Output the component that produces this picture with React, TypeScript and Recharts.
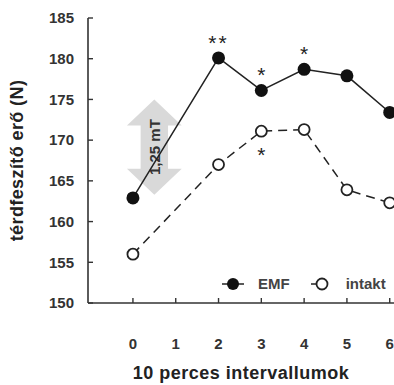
import { LineChart, Line, XAxis, YAxis, ReferenceArea, Legend, LabelList, Label } from 'recharts'

// 10 perces intervallumok (no reading at interval 1)
const intervals = [0, 2, 3, 4, 5, 6]
const emf = [162.9, 180.1, 176.1, 178.7, 177.9, 173.4]
const intakt = [156.0, 167.0, 171.1, 171.3, 163.9, 162.3]
const emfSig = ['', '**', '*', '*', '', '']
const intaktSig = ['', '', '*', '', '', '']
const xTicks = [0, 1, 2, 3, 4, 5, 6]
const yTicks = [150, 155, 160, 165, 170, 175, 180, 185]

// the grey "1,25 mT" double arrow, in data units
const fieldArrow = { x1: -0.14, x2: 1.14, y1: 163.3, y2: 175.0, text: '1,25 mT' }

const data = intervals.map((t, i) => ({
  t,
  emf: emf[i],
  intakt: intakt[i],
  emfSig: emfSig[i],
  intaktSig: intaktSig[i],
}))

const INK = '#222'
const AXIS = '#333'
const FONT = 'Liberation Sans, Arial, sans-serif'

const sigLabel = (dy: number) => (props: any) => {
  const { x, y, value } = props
  if (!value) return null
  return (
    <text x={x} y={y + dy} textAnchor="middle" fontSize={21} fill={INK}
      letterSpacing={value.length > 1 ? 2 : 0} fontFamily={FONT}>
      {value}
    </text>
  )
}

const ArrowShape = (props: any) => {
  const { x, y, width, height } = props
  const cx = x + width / 2
  const hh = 26
  const sw = width * 0.5
  const top = y
  const bot = y + height
  const pts = [
    [cx, top], [x + width, top + hh], [cx + sw / 2, top + hh], [cx + sw / 2, bot - hh],
    [x + width, bot - hh], [cx, bot], [x, bot - hh], [cx - sw / 2, bot - hh],
    [cx - sw / 2, top + hh], [x, top + hh],
  ].map(p => p.join(',')).join(' ')
  const cy = top + height / 2
  return (
    <g>
      <polygon points={pts} fill="#d9d9d9" />
      <text transform={`translate(${cx},${cy}) rotate(-90)`} textAnchor="middle" dy="0.36em"
        fontSize={15} fontWeight="bold" fill="#333" fontFamily={FONT}>
        {fieldArrow.text}
      </text>
    </g>
  )
}

const LegendContent = () => (
  <div style={{ display: 'flex', alignItems: 'center', fontFamily: FONT,
    fontWeight: 'bold', fontSize: 15, color: '#444' }}>
    <svg width={24} height={16}>
      <line x1={0} y1={8} x2={22} y2={8} stroke={INK} strokeWidth={1.5} />
      <circle cx={11} cy={8} r={6} fill="#111" />
    </svg>
    <span style={{ marginLeft: 12 }}>EMF</span>
    <svg width={24} height={16} style={{ marginLeft: 21 }}>
      <line x1={0} y1={8} x2={12} y2={8} stroke={INK} strokeWidth={1.5} />
      <circle cx={11} cy={8} r={5.5} fill="#fff" stroke={INK} strokeWidth={1.8} />
    </svg>
    <span style={{ marginLeft: 11 }}>intakt</span>
  </div>
)

const tickStyle = { fill: '#333', fontSize: 15, fontWeight: 'bold', fontFamily: FONT }

export default function App() {
  return (
    <div style={{ width: 394, height: 385, background: '#fff' }}>
      <style>{'body{margin:0}'}</style>
      <LineChart width={394} height={385} data={data} margin={{ top: 18, right: 0, bottom: 0, left: 0 }}>
        <XAxis
          dataKey="t"
          type="number"
          domain={[-1.05, 6.1]}
          ticks={xTicks}
          allowDataOverflow
          height={65}
          tickSize={-5}
          tickMargin={40}
          tick={tickStyle}
          axisLine={{ stroke: AXIS, strokeWidth: 1.6 }}
          tickLine={{ stroke: AXIS, strokeWidth: 1.4 }}
        >
          <Label
            content={(p: any) => {
              const vb = p.viewBox
              return (
                <text x={vb.x + vb.width / 2} y={379} textAnchor="middle" fontSize={18} fontWeight="bold"
                  letterSpacing={0.5} fill={INK} fontFamily={FONT}>
                  10 perces intervallumok
                </text>
              )
            }}
          />
        </XAxis>
        <YAxis
          domain={[150, 185]}
          ticks={yTicks}
          width={88}
          tickSize={-5}
          tickMargin={19}
          tick={tickStyle}
          axisLine={{ stroke: AXIS, strokeWidth: 1.6 }}
          tickLine={{ stroke: AXIS, strokeWidth: 1.4 }}
        >
          <Label
            content={(p: any) => {
              const vb = p.viewBox
              const cy = vb.y + vb.height / 2
              return (
                <text transform={`translate(17,${cy}) rotate(-90)`} textAnchor="middle" dy="0.36em"
                  fontSize={18} fontWeight="bold" letterSpacing={0.4} fill={INK} fontFamily={FONT}>
                  térdfeszítő erő (N)
                </text>
              )
            }}
          />
        </YAxis>
        <ReferenceArea
          x1={fieldArrow.x1} x2={fieldArrow.x2} y1={fieldArrow.y1} y2={fieldArrow.y2}
          ifOverflow="visible"
          shape={(p: any) => <ArrowShape {...p} />}
        />
        <Legend content={<LegendContent />} wrapperStyle={{ position: 'absolute', left: 222, top: 275, width: 172 }} />
        <Line
          dataKey="intakt"
          name="intakt"
          stroke={INK}
          strokeWidth={1.5}
          strokeDasharray="9 6"
          dot={{ r: 5.5, fill: '#fff', stroke: INK, strokeWidth: 1.8, strokeDasharray: '0' }}
          isAnimationActive={false}
        >
          <LabelList dataKey="intaktSig" content={sigLabel(31)} />
        </Line>
        <Line
          dataKey="emf"
          name="EMF"
          stroke={INK}
          strokeWidth={1.5}
          dot={{ r: 6.5, fill: '#111', stroke: '#111', strokeWidth: 0 }}
          isAnimationActive={false}
        >
          <LabelList dataKey="emfSig" content={sigLabel(-8)} />
        </Line>
      </LineChart>
    </div>
  )
}
